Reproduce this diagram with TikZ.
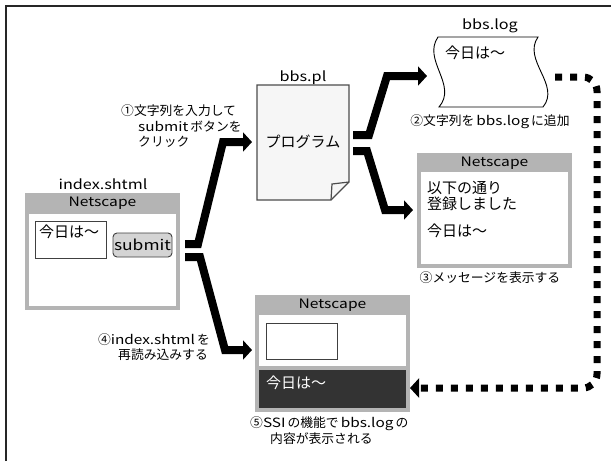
\documentclass[tikz,border=0pt]{standalone}
\usepackage{fontspec}
\setmainfont{Noto Sans CJK JP}
% wide Latin face for file names and embedded words
\newfontfamily\latw[FakeStretch=1.2]{Noto Sans CJK JP}
\usetikzlibrary{arrows.meta}
\definecolor{wingray}{HTML}{B4B4B4}
\definecolor{btngray}{HTML}{D4D4D4}
\definecolor{darkpane}{HTML}{333333}
\definecolor{docfill}{HTML}{F6F6F6}
\newcommand\pxfont[1]{\fontsize{#1}{#1}\selectfont}
\newcommand\lw[1]{\hspace{2pt}{\latw #1}\hspace{2pt}}
\newcommand\lwr[1]{{\latw #1}\hspace{2pt}}
\begin{document}
\begin{tikzpicture}[x=1pt,y=-1pt,
  winbody/.style={fill=wingray, draw=none, inner sep=0pt, anchor=north west},
  titletext/.style={inner sep=0pt, font=\pxfont{13}\latw},
  fname/.style={inner sep=0pt, font=\pxfont{13.5}\latw},
  wintext/.style={inner sep=0pt, anchor=west, font=\pxfont{15}},
  lbl/.style={inner sep=0pt, font=\pxfont{12.8}},
  fieldbox/.style={draw=black!75, line width=0.9pt, fill=white, inner sep=0pt, anchor=north west},
  bigarrow/.style={line width=8pt, line join=miter, -{Triangle[length=9pt,width=19pt]}},
  dotarrow/.style={line width=7pt, dash pattern=on 7pt off 8pt, rounded corners=14pt,
    -{Triangle[length=9pt,width=19pt]}}]
\useasboundingbox (0,0) rectangle (611,461);

% outer frame (left and top edges only)
\draw[line width=1.6pt, black!85] (6,461) -- (6,6) -- (611,6);

% ---- index.shtml browser window ----
\node[winbody, minimum width=155pt, minimum height=117pt] (idxwin) at (25,193) {};
\fill[white] (29,214) rectangle (176,306);
\node[titletext] (idxtitle) at (102.5,203.5) {Netscape};
\node[fname] (idxname) at (103,184) {index.shtml};
\node[fieldbox, minimum width=71pt, minimum height=37pt] (idxfield) at (35,221) {};
\node[wintext] (idxtext) at (39,232) {今日は〜};
\node[draw=black!75, line width=0.9pt, fill=btngray, rounded corners=4pt,
  minimum width=59pt, minimum height=24pt, inner sep=0pt, font=\pxfont{14.5}\latw]
  (submit) at (142.5,245) {submit};

% ---- bbs.pl program document ----
\draw[black!70, line width=1.4pt, fill=docfill]
  (257,85) -- (349,85) -- (349,182) -- (331,200) -- (257,200) -- cycle;
\draw[black!70, line width=1.2pt] (331,200) -- (332,184) -- (349,182);
\node[fname] (plname) at (303,78) {bbs.pl};
\node[inner sep=0pt, font=\pxfont{15}] (prog) at (303,142) {プログラム};

% ---- bbs.log data file ----
\draw[black, line width=0.9pt, fill=white]
  (438,37) -- (538,37)
  .. controls (522,60) and (561,85) .. (543,107)
  -- (439,107)
  .. controls (458,85) and (422,60) .. (438,37) -- cycle;
\node[fname] (logname) at (490,26) {bbs.log};
\node[wintext] (logtext) at (445,53) {今日は〜};
\coordinate (logout) at (555,77);

% ---- result window (message) ----
\node[winbody, minimum width=155pt, minimum height=115pt] (msgwin) at (417,153) {};
\fill[white] (421,172) rectangle (568,264);
\node[titletext] (msgtitle) at (494.5,163) {Netscape};
\node[wintext] (msg1) at (427,188) {以下の通り};
\node[wintext] (msg2) at (427,204) {登録しました};
\node[wintext] (msg3) at (427,231) {今日は〜};

% ---- reloaded index.shtml window ----
\node[winbody, minimum width=155pt, minimum height=117pt] (ssiwin) at (255,295) {};
\fill[white] (259,315) rectangle (406,366);
\fill[darkpane] (259,370) rectangle (406,408);
\node[titletext] (ssititle) at (332.5,305) {Netscape};
\node[fieldbox, minimum width=71pt, minimum height=36pt] (ssifield) at (266,323) {};
\node[wintext, text=white] (ssitext) at (266,383) {今日は〜};
\coordinate (ssiin) at (410,388);

% ---- captions ----
\node[lbl, anchor=west] (c1a) at (121,111) {①文字列を入力して};
\node[lbl, anchor=west] (c1b) at (138,127) {\lwr{submit}ボタンを};
\node[lbl, anchor=west] (c1c) at (138,142) {クリック};
\node[lbl] (c2) at (490,122) {②文字列を\lw{bbs.log}に追加};
\node[lbl] (c3) at (490,278) {③メッセージを表示する};
\node[lbl, anchor=east] (c4a) at (210,340) {④\lwr{index.shtml}を};
\node[lbl, anchor=east] (c4b) at (208,355) {再読み込みする};
\node[lbl, anchor=west] (c5a) at (250,424) {⑤\lwr{SSI}の機能で\lw{bbs.log}の};
\node[lbl, anchor=west] (c5b) at (270,439) {内容が表示される};

% ---- flow arrows ----
\coordinate (aout1) at (185,244);
\coordinate (aout2) at (185,257);
\coordinate (pout1) at (353,135);
\coordinate (pout2) at (353,151);
\draw[bigarrow] (aout1) -- (198,244) -- (223,142) -- (prog.west -| 252,0);
\draw[bigarrow] (aout2) -- (200,257) -- (225,350) -- (252,350);
\draw[bigarrow] (pout1) -- (369,135) -- (387,76) -- (427,76);
\draw[bigarrow] (pout2) -- (367,151) -- (385,210) -- (413,210);
\draw[dotarrow] (logout) -- (597,77) -- (597,388) -- (ssiin);
\end{tikzpicture}
\end{document}
